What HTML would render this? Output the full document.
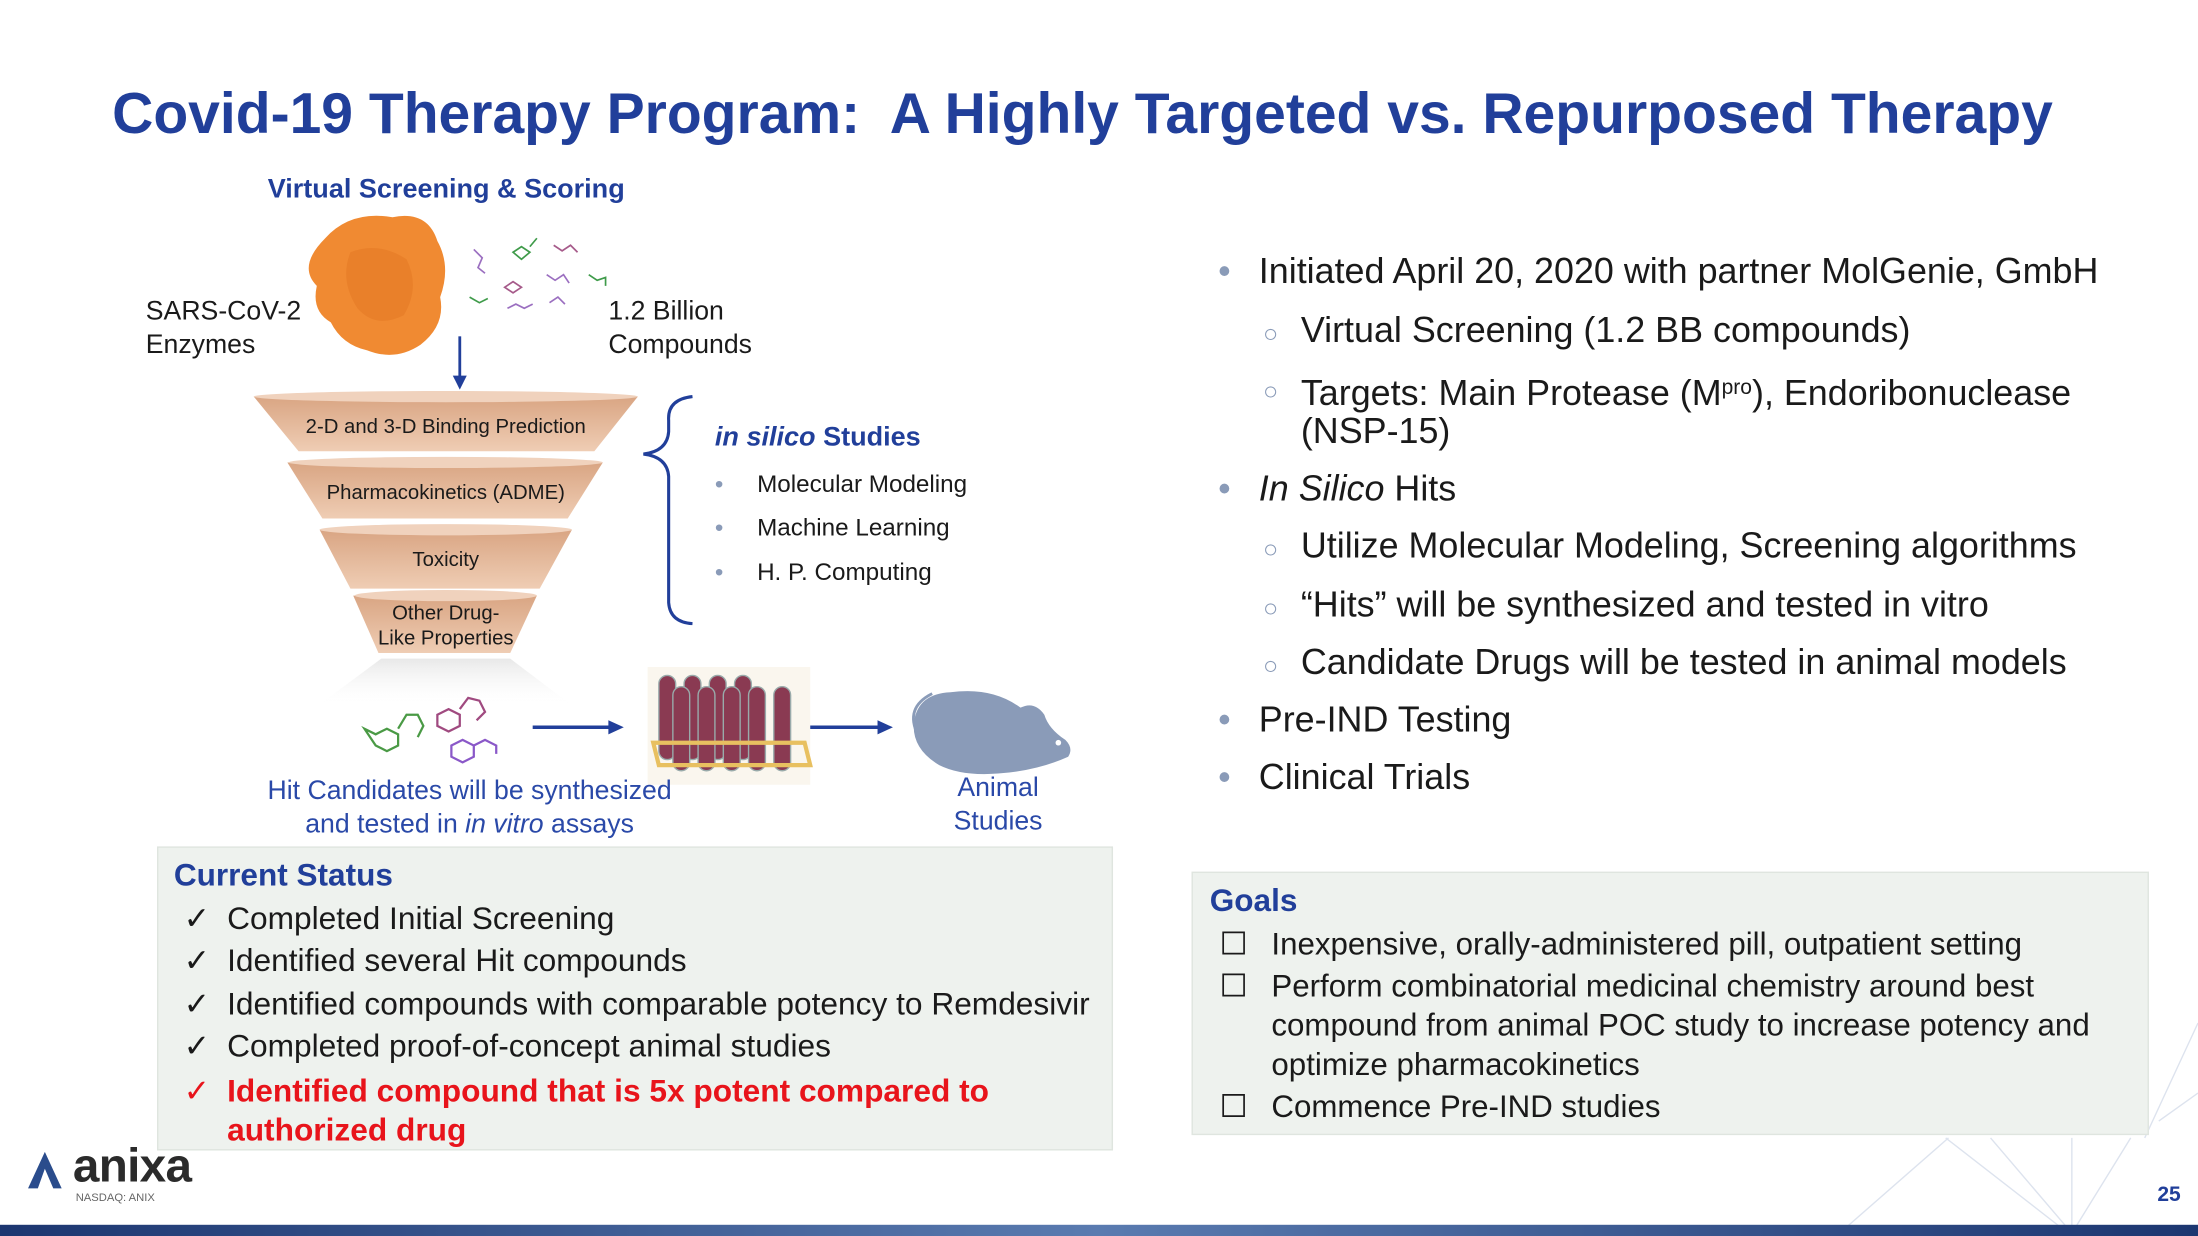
<!DOCTYPE html>
<html><head><meta charset="utf-8"><style>
html,body{margin:0;padding:0;background:#fff;overflow:hidden}
#wrap{width:2198px;height:1236px;position:relative;overflow:hidden}
#s{position:absolute;left:0;top:0;width:1568px;height:882px;transform:scale(1.40179,1.40136);transform-origin:0 0;font-family:"Liberation Sans",sans-serif;color:#1a1a1a}
.a{position:absolute;white-space:nowrap}
.blue{color:#213f9a}
.c{text-align:center}
.r{position:absolute;white-space:nowrap;font-size:25.6px;line-height:30px}
.b{color:#8a9bb8;position:absolute;left:-29px}
.o{color:#8a9bb8;position:absolute;left:-27px;font-size:18px;top:2px}
.cs{position:absolute;white-space:nowrap;font-size:22.6px;line-height:30px;left:162px}
.ck{position:absolute;left:-31px}
.g{position:absolute;white-space:nowrap;font-size:22.3px;line-height:28px;left:907px}
.bx{position:absolute;left:-37px}
</style></head><body><div id="wrap"><div id="s">

<div class="a blue" style="left:80px;top:56px;font-size:40.7px;font-weight:bold;line-height:50px">Covid-19 Therapy Program:&nbsp; A Highly Targeted vs. Repurposed Therapy</div>

<div class="a blue" style="left:191px;top:124px;font-size:19.3px;font-weight:bold;line-height:24px">Virtual Screening &amp; Scoring</div>

<svg class="a" style="left:0;top:0" width="1568" height="882">
 <defs>
  <linearGradient id="fg" x1="0" y1="0" x2="0" y2="1"><stop offset="0" stop-color="#d9a583"/><stop offset="1" stop-color="#efcdb4"/></linearGradient>
  <linearGradient id="bar" x1="0" x2="1"><stop offset="0" stop-color="#1c3670"/><stop offset="0.5" stop-color="#5a7bb0"/><stop offset="1" stop-color="#1c3670"/></linearGradient>
  <linearGradient id="glow" x1="0" y1="0" x2="0" y2="1"><stop offset="0" stop-color="#e8e8e8"/><stop offset="1" stop-color="#fff" stop-opacity="0"/></linearGradient>
 </defs>
 <path d="M232 170 Q250 150 280 155 Q305 150 312 172 Q322 190 314 212 Q318 232 300 246 Q282 258 262 250 Q244 246 236 230 Q222 222 226 204 Q212 190 232 170Z" fill="#f08a32"/>
 <path d="M250 180 Q270 172 290 185 Q300 205 288 225 Q268 235 255 220 Q242 200 250 180Z" fill="#e57a24" opacity="0.6"/>
 <g stroke-width="1.2" fill="none">
  <path d="M338 178 l6 6 l-3 7 l5 4" stroke="#9b6fc0"/><path d="M366 180 l6-4 l6 4 l-6 5z M378 176 l5-6" stroke="#3f9b4a"/>
  <path d="M395 175 l6 4 l6-4 l5 5" stroke="#a65a8a"/><path d="M360 205 l6-4 l6 4 l-6 4z" stroke="#a65a8a"/>
  <path d="M335 212 l7 4 l6-3" stroke="#3f9b4a"/><path d="M390 196 l6 4 l6-4 l4 6" stroke="#9b6fc0"/>
  <path d="M362 220 l6-3 l6 3 l6-3" stroke="#9b6fc0"/><path d="M392 216 l6-4 l5 5" stroke="#9b6fc0"/>
  <path d="M420 196 l6 4 l6-2 l0 6" stroke="#3f9b4a"/>
 </g>
 <line x1="328" y1="240" x2="328" y2="270" stroke="#213f9a" stroke-width="2"/><path d="M323 268 L328 278 L333 268Z" fill="#213f9a"/>
 <path d="M181 283 L455 283 L424 322 L213 322Z" fill="url(#fg)"/><ellipse cx="318" cy="283" rx="137" ry="4" fill="#f0d2bd"/>
 <path d="M205 330 L430 330 L405 370 L230 370Z" fill="url(#fg)"/><ellipse cx="318" cy="330" rx="112" ry="4" fill="#f0d2bd"/>
 <path d="M228 378 L408 378 L385 420 L250 420Z" fill="url(#fg)"/><ellipse cx="318" cy="378" rx="90" ry="4" fill="#f0d2bd"/>
 <path d="M252 425 L383 425 L364 466 L270 466Z" fill="url(#fg)"/><ellipse cx="318" cy="425" rx="65" ry="4" fill="#f0d2bd"/>
 <path d="M272 470 L364 470 L410 505 L225 505Z" fill="url(#glow)"/>
 <path d="M494 283 Q476 285 477 300 L477 308 Q476 322 459 324 Q476 326 477 340 L477 430 Q478 444 494 445" stroke="#213f9a" stroke-width="2.2" fill="none"/>
 <g stroke-width="1.6" fill="none">
  <path d="M260 520 l8 4 l8-4 l8 4 l0 8 l-8 4 l-8-4z M284 520 l6-10 l8 0 l4 8 l-4 8" stroke="#4a9a45"/>
  <path d="M312 510 l8-4 l8 4 l0 8 l-8 4 l-8-4z M328 506 l6-8 l8 2 l4 8 l-6 6" stroke="#a04a80"/>
  <path d="M322 532 l8-4 l8 4 l0 8 l-8 4 l-8-4z M338 532 l8-4 l8 4 l0 6" stroke="#8a58c8"/>
 </g>
 <line x1="380" y1="519" x2="436" y2="519" stroke="#213f9a" stroke-width="2.5"/><path d="M434 514 L445 519 L434 524Z" fill="#213f9a"/>
 <line x1="572" y1="519" x2="628" y2="519" stroke="#213f9a" stroke-width="2.5"/><path d="M626 514 L637 519 L626 524Z" fill="#213f9a"/>
 <rect x="462" y="476" width="116" height="84" fill="#faf6ee"/>
 <g fill="#8a3a52" stroke="#9aa" stroke-width="1">
  <rect x="470" y="482" width="12" height="60" rx="6"/><rect x="488" y="482" width="12" height="60" rx="6"/><rect x="506" y="482" width="12" height="60" rx="6"/><rect x="524" y="482" width="12" height="60" rx="6"/>
  <rect x="480" y="490" width="12" height="60" rx="6"/><rect x="498" y="490" width="12" height="60" rx="6"/><rect x="516" y="490" width="12" height="60" rx="6"/><rect x="534" y="490" width="12" height="60" rx="6"/><rect x="552" y="490" width="12" height="60" rx="6"/>
 </g>
 <path d="M466 530 L574 530 L578 546 L470 546Z" fill="none" stroke="#e8c060" stroke-width="3"/>
 <path d="M652 515 Q655 495 678 494 Q708 490 728 505 Q738 500 745 510 Q748 520 760 528 Q766 534 762 540 Q740 550 712 552 Q686 554 670 546 Q650 534 652 515Z" fill="#8a9bb8"/>
 <path d="M655 525 Q645 505 665 495" stroke="#8a9bb8" stroke-width="2" fill="none"/>
 <circle cx="755" cy="530" r="2" fill="#fff"/>
 <g stroke="#dde3ee" stroke-width="1" fill="none">
  <path d="M1388 812 L1478 882 M1390 812 L1310 882 M1420 812 L1478 880 M1478 812 L1478 882 M1520 812 L1478 880 M1568 730 L1530 812 M1568 780 L1540 800"/>
 </g>
 <rect x="0" y="874" width="1568" height="8" fill="url(#bar)"/>
 <path d="M20 848 L32 822 L44 848 L38 848 L32 834 L27 848Z" fill="#2a4c8c"/>
</svg>

<div class="a" style="left:104px;top:211px;font-size:19px;line-height:24px">SARS-CoV-2<br>Enzymes</div>
<div class="a" style="left:434px;top:211px;font-size:19px;line-height:24px">1.2 Billion<br>Compounds</div>

<div class="a c" style="left:180px;width:276px;top:296px;font-size:14.5px;line-height:18px">2-D and 3-D Binding Prediction</div>
<div class="a c" style="left:180px;width:276px;top:343px;font-size:14.5px;line-height:18px">Pharmacokinetics (ADME)</div>
<div class="a c" style="left:180px;width:276px;top:391px;font-size:14.5px;line-height:18px">Toxicity</div>
<div class="a c" style="left:180px;width:276px;top:429px;font-size:14.5px;line-height:18px">Other Drug-<br>Like Properties</div>

<div class="a blue" style="left:510px;top:301px;font-size:19.3px;font-weight:bold;line-height:24px"><i>in silico</i> Studies</div>
<div class="a" style="left:510px;top:330px;font-size:17.3px;line-height:31.3px"><span style="color:#8a9bb8">•</span>&nbsp;&nbsp;&nbsp;&nbsp;&nbsp;Molecular Modeling<br><span style="color:#8a9bb8">•</span>&nbsp;&nbsp;&nbsp;&nbsp;&nbsp;Machine Learning<br><span style="color:#8a9bb8">•</span>&nbsp;&nbsp;&nbsp;&nbsp;&nbsp;H. P. Computing</div>

<div class="a c" style="left:135px;width:400px;top:553px;font-size:19px;line-height:24px;color:#2a49a8">Hit Candidates will be synthesized<br>and tested in <i>in vitro</i> assays</div>
<div class="a c" style="left:662px;width:100px;top:551px;font-size:19px;line-height:24px;color:#2a49a8">Animal<br>Studies</div>

<div class="a" style="left:112px;top:604px;width:682px;height:217px;background:#eef2ee;border:1px solid #dfe5df;box-sizing:border-box"></div>
<div class="a blue" style="left:124px;top:612px;font-size:22.5px;font-weight:bold;line-height:26px">Current Status</div>
<div class="cs" style="top:641px"><span class="ck">✓</span>Completed Initial Screening</div>
<div class="cs" style="top:671px"><span class="ck">✓</span>Identified several Hit compounds</div>
<div class="cs" style="top:702px"><span class="ck">✓</span>Identified compounds with comparable potency to Remdesivir</div>
<div class="cs" style="top:732px"><span class="ck">✓</span>Completed proof-of-concept animal studies</div>
<div class="cs" style="top:764px;color:#e8141b;font-weight:bold"><span class="ck" style="font-weight:normal">✓</span>Identified compound that is 5x potent compared to</div>
<div class="cs" style="top:792px;color:#e8141b;font-weight:bold">authorized drug</div>

<div style="position:absolute;left:898px;top:0">
<div class="r" style="top:179px"><span class="b">•</span>Initiated April 20, 2020 with partner MolGenie, GmbH</div>
<div class="r" style="top:221px;left:30px"><span class="o">○</span>Virtual Screening (1.2 BB compounds)</div>
<div class="r" style="top:262px;left:30px"><span class="o">○</span>Targets: Main Protease (M<span style="font-size:15px;vertical-align:8px">pro</span>), Endoribonuclease</div>
<div class="r" style="top:293px;left:30px">(NSP-15)</div>
<div class="r" style="top:334px"><span class="b">•</span><i>In Silico</i> Hits</div>
<div class="r" style="top:375px;left:30px"><span class="o">○</span>Utilize Molecular Modeling, Screening algorithms</div>
<div class="r" style="top:417px;left:30px"><span class="o">○</span>“Hits” will be synthesized and tested in vitro</div>
<div class="r" style="top:458px;left:30px"><span class="o">○</span>Candidate Drugs will be tested in animal models</div>
<div class="r" style="top:499px"><span class="b">•</span>Pre-IND Testing</div>
<div class="r" style="top:540px"><span class="b">•</span>Clinical Trials</div>
</div>

<div class="a" style="left:850px;top:622px;width:683px;height:188px;background:#eef2ee;border:1px solid #dfe5df;box-sizing:border-box"></div>
<div class="a blue" style="left:863px;top:630px;font-size:22.5px;font-weight:bold;line-height:26px">Goals</div>
<div class="g" style="top:660px"><span class="bx">☐</span>Inexpensive, orally-administered pill, outpatient setting</div>
<div class="g" style="top:690px"><span class="bx">☐</span>Perform combinatorial medicinal chemistry around best</div>
<div class="g" style="top:718px">compound from animal POC study to increase potency and</div>
<div class="g" style="top:746px">optimize pharmacokinetics</div>
<div class="g" style="top:776px"><span class="bx">☐</span>Commence Pre-IND studies</div>

<div class="a" style="left:52px;top:812px;font-size:34px;font-weight:bold;line-height:40px;color:#2b2b2b;letter-spacing:-0.5px">anixa</div>
<div class="a" style="left:54px;top:850px;font-size:8px;line-height:10px;color:#666">NASDAQ: ANIX</div>
<div class="a blue" style="left:1539px;top:844px;font-size:15px;font-weight:bold;line-height:18px">25</div>

</div></div></body></html>
